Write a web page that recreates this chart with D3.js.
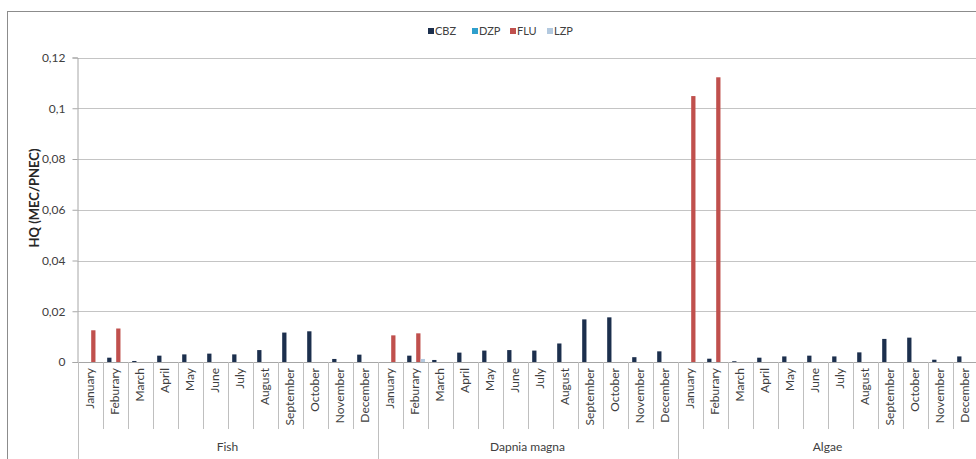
<!DOCTYPE html>
<html>
<head>
<meta charset="utf-8">
<script src="https://cdn.jsdelivr.net/npm/d3@7"></script>
<style>
  body { margin: 0; background: #fff; }
  text { font-family: Lato, "Open Sans", sans-serif; fill: #404040; }
</style>
</head>
<body>
<svg id="chart" width="976" height="459"></svg>
<script>
const groups = ["Fish", "Dapnia magna", "Algae"];
const months = ["January", "Feburary", "March", "April", "May", "June", "July",
  "August", "September", "October", "November", "December"];
const series = ["CBZ", "DZP", "FLU", "LZP"];
const colors = ["#1c2f4d", "#2f9fcc", "#c0504d", "#b3c9df"];
const yTicks = [0, 0.02, 0.04, 0.06, 0.08, 0.1, 0.12];

// values per group, January..December
const cbz = {
  "Fish":         [0, 0.0017, 0.0004, 0.0025, 0.003, 0.0033, 0.003, 0.0047, 0.0116, 0.0121, 0.0012, 0.0029],
  "Dapnia magna": [0, 0.0025, 0.0008, 0.0037, 0.0045, 0.0047, 0.0045, 0.0073, 0.0168, 0.0176, 0.0019, 0.0042],
  "Algae":        [0, 0.0013, 0.0003, 0.0017, 0.0022, 0.0025, 0.0022, 0.0038, 0.0091, 0.0096, 0.0009, 0.0022]
};
const dzp = {
  "Fish":         [0, 0, 0, 0, 0, 0, 0, 0, 0, 0, 0, 0],
  "Dapnia magna": [0, 0, 0, 0, 0, 0, 0, 0, 0, 0, 0, 0],
  "Algae":        [0, 0, 0, 0, 0, 0, 0, 0, 0, 0, 0, 0]
};
const flu = {
  "Fish":         [0.0125, 0.0132, 0, 0, 0, 0, 0, 0, 0, 0, 0, 0],
  "Dapnia magna": [0.0105, 0.0113, 0, 0, 0, 0, 0, 0, 0, 0, 0, 0],
  "Algae":        [0.1048, 0.1122, 0, 0, 0, 0, 0, 0, 0, 0, 0, 0]
};
const lzp = {
  "Fish":         [0, 0, 0, 0, 0, 0, 0, 0, 0, 0, 0, 0],
  "Dapnia magna": [0, 0.0012, 0, 0, 0, 0, 0, 0, 0, 0, 0, 0],
  "Algae":        [0, 0, 0, 0, 0, 0, 0, 0, 0, 0, 0, 0]
};
const seriesData = [cbz, dzp, flu, lzp];

const svg = d3.select("#chart");
const plotLeft = 77.5, plotRight = 977.5, plotTop = 57.5, plotBottom = 362;

// outer chart border
svg.append("rect")
    .attr("x", 7.5).attr("y", 11.5)
    .attr("width", 1000).attr("height", 500)
    .attr("fill", "none")
    .attr("stroke", "#8c8c8c");

const slots = [];
groups.forEach((g) => months.forEach((m, i) => slots.push({ group: g, month: m, i: i })));

const x0 = d3.scaleBand()
    .domain(slots.map((d) => d.group + "|" + d.month))
    .range([plotLeft, plotRight]);

const x1 = d3.scaleBand()
    .domain(series)
    .range([0, x0.bandwidth()])
    .paddingInner(0.05)
    .paddingOuter(0.8)
    .align(0.65);

const y = d3.scaleLinear().domain([0, 0.12]).range([plotBottom, plotTop]);

const locale = d3.formatLocale({ decimal: ",", thousands: ".", grouping: [3], currency: ["", ""] });
const fmt = locale.format(".2~f");

// gridlines
svg.append("g")
  .selectAll("line")
  .data(yTicks.slice(1))
  .enter().append("line")
    .attr("x1", plotLeft).attr("x2", plotRight)
    .attr("y1", (d) => Math.round(y(d)) + 0.5)
    .attr("y2", (d) => Math.round(y(d)) + 0.5)
    .attr("stroke", "#c4c4c4");

// y axis
const yAxis = svg.append("g")
    .attr("transform", `translate(${plotLeft},0)`)
    .call(d3.axisLeft(y).tickValues(yTicks).tickFormat(fmt).tickSize(5).tickPadding(7));
yAxis.select(".domain").attr("stroke", "#a6a6a6");
yAxis.selectAll(".tick line").attr("stroke", "#a6a6a6");
yAxis.selectAll(".tick text")
    .style("font-family", "Lato, sans-serif")
    .style("font-size", "12px")
    .attr("fill", "#404040");

svg.append("text")
    .attr("transform", "translate(39,198) rotate(-90)")
    .attr("text-anchor", "middle")
    .style("font-size", "13px")
    .style("font-weight", "bold")
    .style("fill", "#262626")
    .text("HQ (MEC/PNEC)");

// bars
series.forEach((s, si) => {
  svg.append("g")
    .selectAll("rect")
    .data(slots)
    .enter().append("rect")
      .attr("x", (d) => x0(d.group + "|" + d.month) + x1(s))
      .attr("width", x1.bandwidth())
      .attr("y", (d) => y(seriesData[si][d.group][d.i]))
      .attr("height", (d) => plotBottom - y(seriesData[si][d.group][d.i]))
      .attr("fill", colors[si]);
});

// category axis
svg.append("line")
    .attr("x1", plotLeft).attr("x2", plotRight)
    .attr("y1", plotBottom + 0.5).attr("y2", plotBottom + 0.5)
    .attr("stroke", "#a6a6a6");

const cat = svg.append("g");
slots.forEach((d) => {
  const xs = x0(d.group + "|" + d.month);
  const isGroupStart = d.i === 0;
  cat.append("line")
      .attr("x1", Math.round(xs) + 0.5).attr("x2", Math.round(xs) + 0.5)
      .attr("y1", plotBottom).attr("y2", isGroupStart ? 459 : 429)
      .attr("stroke", "#bfbfbf");
  cat.append("text")
      .attr("transform", `translate(${xs + x0.bandwidth() / 2 + 4},368) rotate(-90)`)
      .attr("text-anchor", "end")
      .style("font-size", "12px")
      .text(d.month);
});
cat.append("line")
    .attr("x1", plotRight - 1).attr("x2", plotRight - 1)
    .attr("y1", plotBottom).attr("y2", 459)
    .attr("stroke", "#bfbfbf");

cat.selectAll(".group")
  .data(groups)
  .enter().append("text")
    .attr("class", "group")
    .attr("x", (g) => (x0(g + "|January") + x0(g + "|December") + x0.bandwidth()) / 2)
    .attr("y", 451)
    .attr("text-anchor", "middle")
    .style("font-size", "12px")
    .text((g) => g);

// legend
const legendX = [428, 472, 510, 547];
const legend = svg.append("g");
series.forEach((s, si) => {
  legend.append("rect")
      .attr("x", legendX[si]).attr("y", 28)
      .attr("width", 6).attr("height", 6)
      .attr("fill", colors[si]);
  legend.append("text")
      .attr("x", legendX[si] + 7).attr("y", 35)
      .style("font-size", "11px")
      .text(s);
});
</script>
</body>
</html>
